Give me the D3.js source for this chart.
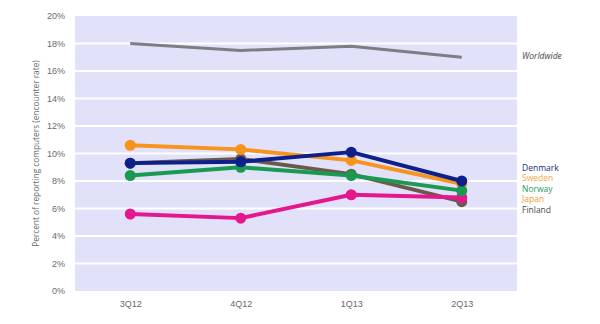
<!DOCTYPE html>
<html>
<head>
<meta charset="utf-8">
<script src="https://cdn.jsdelivr.net/npm/d3@7"></script>
<style>
  html, body { margin: 0; padding: 0; background: #fff; }
  svg { display: block; font-family: "Open Sans", "Noto Sans", sans-serif; }
</style>
</head>
<body>
<svg id="chart" width="600" height="324"></svg>
<script>
// Quarterly encounter rates (%)
const quarters = ["3Q12", "4Q12", "1Q13", "2Q13"];
const yTicks = [0, 2, 4, 6, 8, 10, 12, 14, 16, 18, 20];

const worldwide = [18.0, 17.5, 17.8, 17.0];
const finland   = [9.3, 9.6, 8.5, 6.5];
const japan     = [5.6, 5.3, 7.0, 6.8];
const sweden    = [10.6, 10.3, 9.5, 7.8];
const norway    = [8.4, 9.0, 8.4, 7.3];
const denmark   = [9.3, 9.4, 10.1, 8.0];

// Countries in drawing order (later ones sit on top)
const countries = [
  { name: "Finland", values: finland, color: "#6b5a4b" },
  { name: "Japan",   values: japan,   color: "#e4188c" },
  { name: "Sweden",  values: sweden,  color: "#f7941e" },
  { name: "Norway",  values: norway,  color: "#1a9a50" },
  { name: "Denmark", values: denmark, color: "#0c1f8a" }
];

// Legend order and label colours
const legendNames = ["Denmark", "Sweden", "Norway", "Japan", "Finland"];
const legendColors = ["#1c2a78", "#f4a64a", "#1f9a60", "#f29a30", "#4a4a4a"];

const svg = d3.select("#chart");
const plot = { left: 75, right: 517, top: 16, bottom: 291 };

const x = d3.scalePoint().domain(quarters).range([plot.left, plot.right]).padding(0.5);
const y = d3.scaleLinear().domain([0, 20]).range([plot.bottom, plot.top]);

// Plot background
svg.append("rect")
  .attr("x", plot.left).attr("y", y(20))
  .attr("width", plot.right - plot.left).attr("height", y(0) - y(20))
  .attr("fill", "#e1e1fa");

// White horizontal gridlines
svg.append("g").selectAll("line")
  .data(yTicks.filter(d => d > 0 && d < 20))
  .join("line")
  .attr("x1", plot.left).attr("x2", plot.right)
  .attr("y1", d => y(d)).attr("y2", d => y(d))
  .attr("stroke", "#ffffff").attr("stroke-width", 2);

// Y axis labels
const yAxis = d3.axisLeft(y).tickValues(yTicks).tickFormat(d => d + "%").tickSize(0).tickPadding(10);
const gy = svg.append("g").attr("transform", `translate(${plot.left},0)`).call(yAxis);
gy.select(".domain").remove();
gy.selectAll("text").attr("fill", "#6a6a6a").attr("font-size", 9);

// X axis labels
const xAxis = d3.axisBottom(x).tickSize(0).tickPadding(10);
const gx = svg.append("g").attr("transform", `translate(0,${plot.bottom})`).call(xAxis);
gx.select(".domain").remove();
gx.selectAll("text").attr("fill", "#6a6a6a").attr("font-size", 9);

// Y axis title
svg.append("text")
  .attr("transform", `translate(39,${(plot.top + plot.bottom) / 2}) rotate(-90)`)
  .attr("text-anchor", "middle")
  .attr("font-size", 8.3)
  .attr("fill", "#6a6a6a")
  .text("Percent of reporting computers (encounter rate)");

const line = d3.line().x((d, i) => x(quarters[i])).y(d => y(d));

// Worldwide line
svg.append("path")
  .datum(worldwide)
  .attr("d", line)
  .attr("fill", "none")
  .attr("stroke", "#7d7d85")
  .attr("stroke-width", 3);

// Country lines with markers
countries.forEach(c => {
  const g = svg.append("g");
  g.append("path")
    .datum(c.values)
    .attr("d", line)
    .attr("fill", "none")
    .attr("stroke", c.color)
    .attr("stroke-width", 4)
    .attr("stroke-linejoin", "round");
  g.selectAll("circle")
    .data(c.values)
    .join("circle")
    .attr("cx", (d, i) => x(quarters[i]))
    .attr("cy", d => y(d))
    .attr("r", 5.5)
    .attr("fill", c.color);
});

// Series labels
svg.append("text")
  .attr("x", 522).attr("y", y(worldwide[3]) + 2)
  .attr("font-size", 8.5)
  .attr("font-style", "italic")
  .attr("fill", "#444")
  .text("Worldwide");

svg.append("g").selectAll("text")
  .data(legendNames)
  .join("text")
  .attr("x", 522)
  .attr("y", (d, i) => 170.5 + i * 10.6)
  .attr("font-size", 8.5)
  .attr("fill", (d, i) => legendColors[i])
  .text(d => d);
</script>
</body>
</html>
